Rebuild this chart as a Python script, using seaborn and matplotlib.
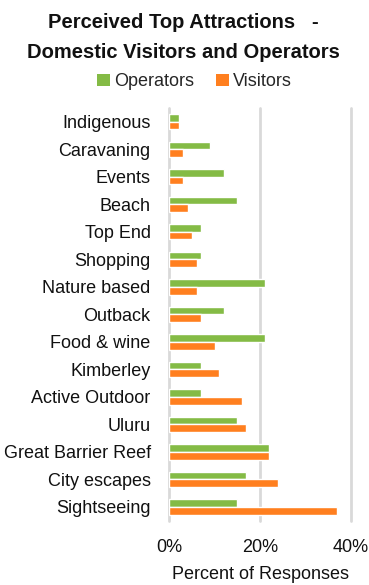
import matplotlib
matplotlib.use("Agg")
import matplotlib.pyplot as plt
import seaborn as sns
import pandas as pd
from matplotlib.patches import Patch

categories = ["Indigenous", "Caravaning", "Events", "Beach", "Top End", "Shopping",
              "Nature based", "Outback", "Food & wine", "Kimberley", "Active Outdoor",
              "Uluru", "Great Barrier Reef", "City escapes", "Sightseeing"]
operators = [2, 9, 12, 15, 7, 7, 21, 12, 21, 7, 7, 15, 22, 17, 15]
visitors = [2, 3, 3, 4, 5, 6, 6, 7, 10, 11, 16, 17, 22, 24, 37]
series = ["Operators", "Visitors"]
colors = ["#84BB45", "#FF7F1F"]
xticks = [0, 20, 40]
xtick_labels = ["0%", "20%", "40%"]

df = pd.DataFrame({
    "Attraction": categories * 2,
    "Percent": operators + visitors,
    "Group": [series[0]] * len(categories) + [series[1]] * len(categories),
})

sns.set_theme(style="white")
plt.rcParams["font.family"] = ["Liberation Sans", "DejaVu Sans"]

fig = plt.figure(figsize=(3.69, 5.85), dpi=100)
ax = fig.add_axes([0.4593, 0.110, 0.4911, 0.7054])

sns.barplot(data=df, y="Attraction", x="Percent", hue="Group", order=categories,
            hue_order=series, palette=colors, width=0.56, orient="h",
            ax=ax, legend=False, saturation=1)

ax.set_xlim(0, 40)
ax.set_ylim(len(categories) - 0.5, -0.5)
ax.set_xticks(xticks)
ax.set_xticklabels(xtick_labels, fontsize=13)
for t in ax.get_yticklabels():
    t.set_fontsize(13)
ax.tick_params(axis="y", length=0, pad=13.5, labelcolor="#111111")
ax.tick_params(axis="x", length=0, pad=13.5, labelcolor="#111111")
ax.set_ylabel("")
ax.set_xlabel("Percent of Responses", fontsize=13, color="#111111", labelpad=7)

for s in ax.spines.values():
    s.set_visible(False)
for x in xticks:
    ax.axvline(x, color="#D9D9D9", lw=2, zorder=0, clip_on=False)
ax.set_axisbelow(True)

title_kw = dict(ha="center", va="center", fontsize=14.5, fontweight="bold", color="#111111")
fig.text(0.497, 1 - 22 / 585, "Perceived Top Attractions   -", **title_kw)
fig.text(0.497, 1 - 52 / 585, "Domestic Visitors and Operators", **title_kw)

handles = [Patch(facecolor=c, edgecolor="none", label=l) for c, l in zip(colors, series)]
fig.legend(handles=handles, loc="center", bbox_to_anchor=(0.528, 1 - 82 / 585), ncol=2,
           frameon=False, fontsize=13, handlelength=0.7, handleheight=0.7,
           handletextpad=0.25, columnspacing=1.2, borderpad=0)

fig.savefig("out.png", dpi=100)
